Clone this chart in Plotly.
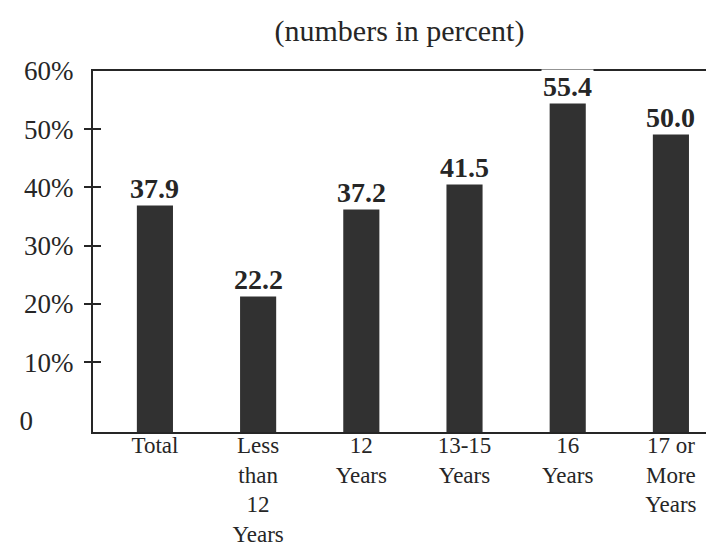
import plotly.graph_objects as go

# Share of respondents by years of schooling (percent)
categories = ["Total", "Less<br>than<br>12<br>Years", "12<br>Years", "13-15<br>Years",
              "16<br>Years", "17 or<br>More<br>Years"]
values = [37.9, 22.2, 37.2, 41.5, 55.4, 50.0]
value_labels = ["37.9", "22.2", "37.2", "41.5", "55.4", "50.0"]

y_tick_vals = [0, 10, 20, 30, 40, 50, 60]
y_tick_text = ["0\u2007\u2007\u2007", "10%", "20%", "30%", "40%", "50%", "60%"]
y_mark_vals = [10, 20, 30, 40, 50]

Y_MIN, Y_MAX = -2, 60
INK = "#262626"
BAR = "#313131"
SERIF = "Liberation Serif"

x_pos = list(range(len(categories)))

fig = go.Figure()
fig.add_trace(go.Bar(
    x=x_pos,
    y=[v - Y_MIN for v in values],
    base=Y_MIN,
    width=0.35,
    marker=dict(color=BAR, line=dict(width=0)),
    hoverinfo="skip",
    showlegend=False,
))

# value labels above each bar (white box hides the frame line behind them)
for xi, v, lab in zip(x_pos, values, value_labels):
    fig.add_annotation(
        x=xi, y=v, xref="x", yref="y",
        text=f"<b>{lab}</b>", showarrow=False,
        yanchor="bottom", yshift=-6,
        font=dict(family=SERIF, size=28, color=INK),
        bgcolor="white", borderpad=1,
    )

fig.update_layout(
    width=706, height=552,
    margin=dict(l=93, r=0, t=71, b=120, autoexpand=False),
    paper_bgcolor="white", plot_bgcolor="white",
    bargap=0.65,
    title=dict(
        text="(numbers in percent)",
        x=0.5, xref="paper", xanchor="center",
        y=1 - 30 / 552, yref="container", yanchor="middle",
        font=dict(family=SERIF, size=30, color=INK),
    ),
    xaxis=dict(
        range=[-0.6, 5.34], automargin=False,
        tickmode="array", tickvals=x_pos, ticktext=categories,
        ticks="", ticklabelstandoff=-9,
        showgrid=False, zeroline=False,
        showline=True, linecolor=INK, linewidth=2, mirror=True,
        tickfont=dict(family=SERIF, size=23, color=INK),
    ),
    yaxis=dict(
        range=[Y_MIN, Y_MAX], automargin=False,
        tickmode="array", tickvals=y_tick_vals, ticktext=y_tick_text,
        ticks="outside", ticklen=12, tickcolor="rgba(0,0,0,0)",
        showgrid=False, zeroline=False,
        showline=True, linecolor=INK, linewidth=2,
        tickfont=dict(family=SERIF, size=27, color=INK),
    ),
    yaxis2=dict(
        range=[Y_MIN, Y_MAX], overlaying="y", side="left", automargin=False,
        tickmode="array", tickvals=y_mark_vals,
        ticks="outside", ticklen=8, tickwidth=2, tickcolor=INK,
        showticklabels=False, showgrid=False, zeroline=False, showline=False,
    ),
    yaxis3=dict(
        range=[Y_MIN, Y_MAX], overlaying="y", side="left", automargin=False,
        tickmode="array", tickvals=y_mark_vals,
        ticks="inside", ticklen=8, tickwidth=2, tickcolor=INK,
        showticklabels=False, showgrid=False, zeroline=False, showline=False,
    ),
)

# invisible traces so the overlay axes are drawn
for ax in ("y2", "y3"):
    fig.add_trace(go.Scatter(x=[0], y=[0], yaxis=ax, mode="markers",
                             marker=dict(opacity=0), hoverinfo="skip",
                             showlegend=False))

fig.write_html("out.html")
